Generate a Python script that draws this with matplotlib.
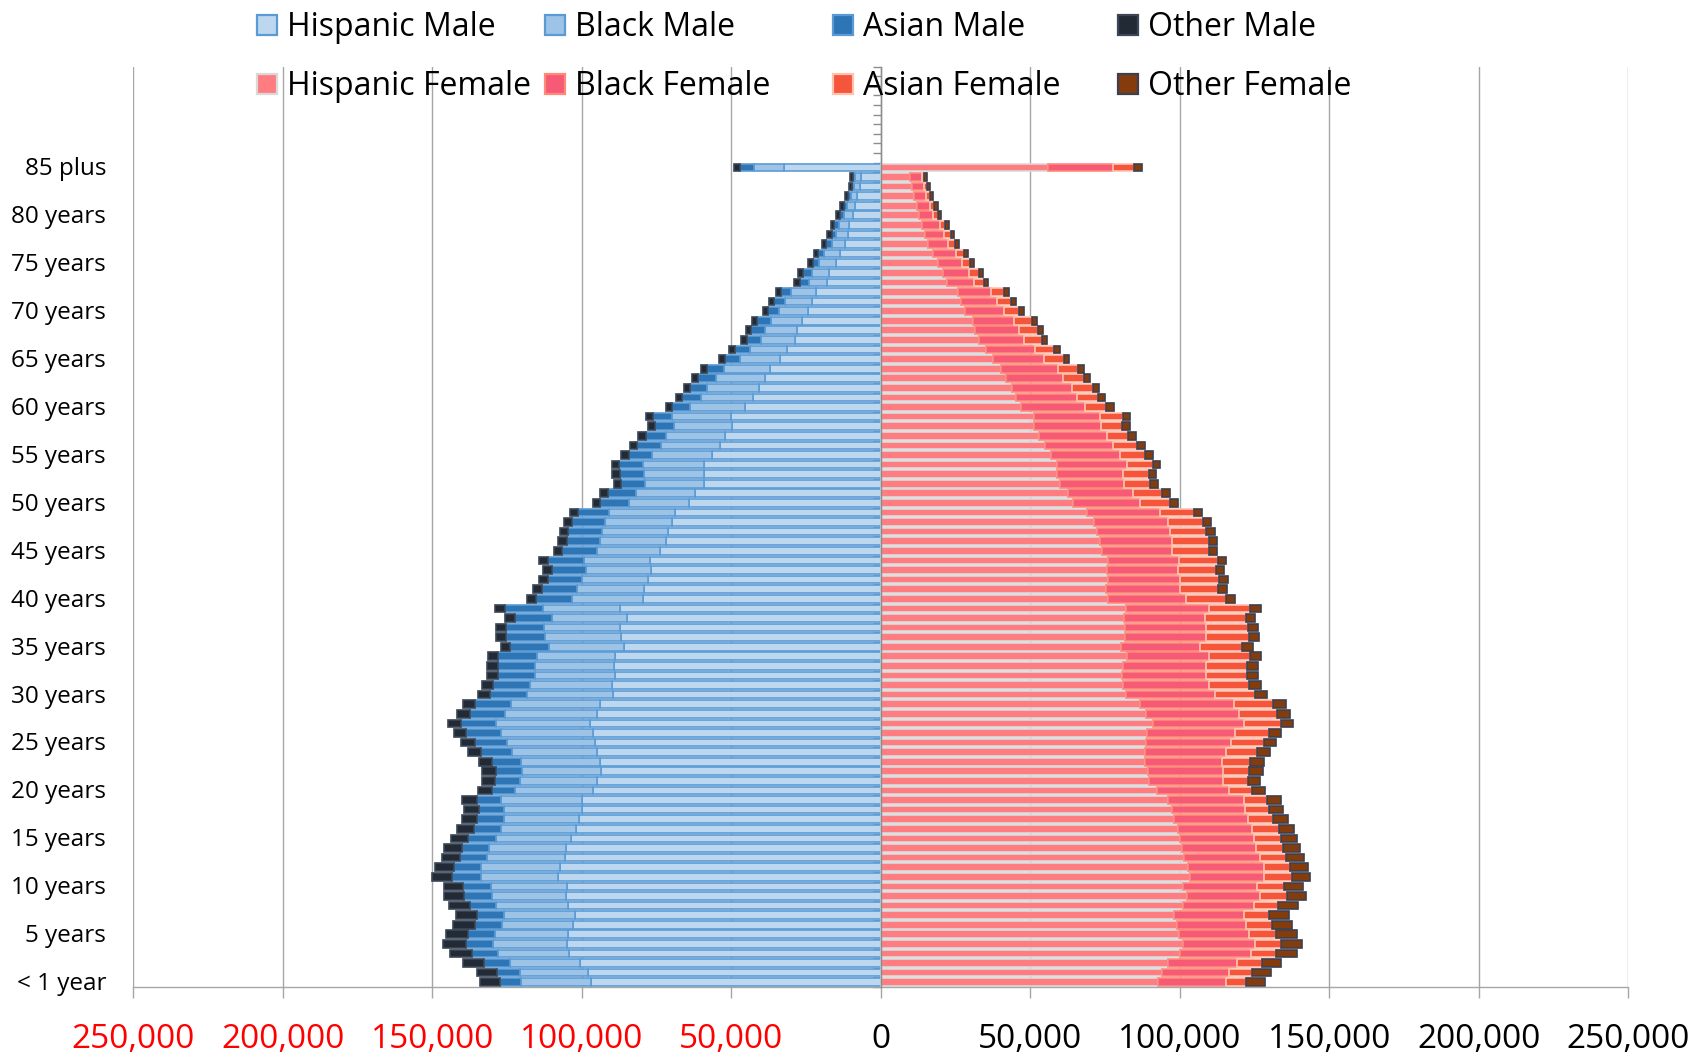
import numpy as np
import matplotlib
matplotlib.use("Agg")
import matplotlib.pyplot as plt
from matplotlib.lines import Line2D
from matplotlib.ticker import FuncFormatter
import matplotlib.transforms as mtransforms

plt.rcParams['font.family'] = ['Open Sans', 'DejaVu Sans']

# ---------------- data (persons), index 0 = "< 1 year", 85 = "85 plus" ----------------
ages = ["< 1 year"] + [f"{a} year" if a == 1 else f"{a} years" for a in range(1, 85)] + ["85 plus"]
shown_labels = ["< 1 year", "5 years", "10 years", "15 years", "20 years", "25 years", "30 years",
                "35 years", "40 years", "45 years", "50 years", "55 years", "60 years", "65 years",
                "70 years", "75 years", "80 years", "85 plus"]

hispanic_male = [97000, 98000, 100700, 104200, 105000, 104600, 102900, 102400, 104700, 105300,
                 105000, 107900, 107300, 105700, 105300, 103600, 101900, 100900, 100100, 100100,
                 96200, 94800, 93700, 93900, 95000, 95700, 96400, 97400, 95000, 93800,
                 89700, 90000, 89000, 89100, 88800, 86000, 86900, 87100, 85000, 87400,
                 79600, 79100, 77800, 76900, 77300, 73800, 72000, 71300, 69700, 68800,
                 64100, 62000, 59200, 59000, 59000, 56400, 53900, 52200, 49700, 50000,
                 45300, 42800, 40900, 38900, 37000, 33700, 31300, 28700, 28000, 26300,
                 24300, 23000, 21700, 18000, 17200, 15000, 13600, 12000, 10900, 10600,
                 9200, 8600, 7900, 6900, 6600, 32400]
black_male = [23300, 22800, 23500, 24000, 24700, 24300, 23800, 23700, 23900, 24700,
              25300, 26000, 26300, 25900, 25700, 25200, 25100, 25300, 25800, 27100,
              26000, 25900, 26300, 26400, 28300, 29300, 30800, 31200, 30600, 29900,
              28600, 27200, 26600, 26500, 26100, 25000, 25400, 25600, 25100, 25600,
              23700, 22600, 22200, 21700, 21900, 21200, 21800, 22000, 22700, 22100,
              20000, 20000, 19600, 20200, 20700, 20300, 19800, 19500, 19500, 19800,
              18400, 17400, 17100, 16300, 15600, 13500, 12600, 11500, 10900, 10600,
              9700, 8900, 8200, 6100, 5800, 5600, 5400, 4300, 4000, 3500,
              3200, 2600, 2000, 2200, 2000, 10000]
asian_male = [7100, 7500, 8600, 8700, 9200, 9200, 9200, 9100, 8800, 9400,
              9400, 9700, 9200, 9200, 9100, 9300, 9100, 8800, 8400, 7800,
              7800, 8200, 8800, 9700, 10300, 10900, 11400, 11700, 11800, 12100,
              12500, 12600, 12500, 12500, 13000, 12900, 13100, 12700, 12300, 12700,
              11900, 11600, 11300, 11400, 12100, 11600, 11200, 11400, 10800, 10400,
              9700, 9300, 8200, 8200, 7900, 7700, 7700, 6900, 6400, 6500,
              6200, 6200, 5900, 5900, 5500, 5000, 5000, 4600, 4400, 4500,
              3800, 3900, 3400, 3100, 3100, 2200, 2000, 2000, 1500, 1500,
              1400, 1100, 1000, 700, 600, 4800]
other_male = [6700, 6900, 7000, 7300, 7400, 7500, 7300, 6900, 7000, 6800,
              6300, 6400, 6200, 6100, 5900, 5800, 5600, 5200, 5100, 5100,
              4700, 4400, 4500, 4400, 4500, 4400, 4300, 4500, 4300, 3900,
              3900, 3600, 3600, 3600, 3400, 3300, 3400, 3300, 3400, 3300,
              3100, 3000, 3000, 3000, 2900, 2800, 2900, 2700, 2900, 2700,
              2500, 2500, 2400, 2400, 2400, 2500, 2500, 2500, 2400, 2300,
              2100, 2200, 1900, 1900, 2100, 2000, 1900, 1900, 1900, 1800,
              1600, 1600, 1700, 1700, 1500, 1400, 1400, 1400, 1700, 1200,
              1200, 1300, 1200, 1000, 1000, 1900]

hispanic_female = [92800, 94000, 96200, 100200, 101000, 99800, 99200, 98200, 101100, 102300,
                   101100, 103300, 102800, 101400, 100700, 99900, 99400, 98000, 97300, 96100,
                   92300, 89800, 89200, 88300, 88300, 88700, 88900, 91100, 88800, 86800,
                   82100, 81000, 80800, 81100, 82200, 80200, 81600, 81700, 81300, 81900,
                   76100, 75300, 76100, 75700, 76100, 74100, 73400, 72300, 71200, 69100,
                   64300, 62600, 59800, 58800, 59000, 56800, 55000, 53000, 51300, 51200,
                   47000, 45100, 43700, 41700, 40300, 37400, 35300, 32800, 31400, 30700,
                   28000, 26700, 25700, 22100, 20700, 19000, 17600, 15700, 14700, 13700,
                   12600, 12000, 11100, 10400, 9800, 55800]
black_female = [22500, 22600, 23000, 23600, 24100, 23300, 23000, 23200, 23800, 24500,
                 24700, 25000, 25200, 25300, 24700, 24800, 24600, 24700, 24500, 25300,
                 24300, 24500, 25200, 25800, 27000, 28500, 29500, 30300, 31100, 31200,
                 29600, 28600, 27900, 27600, 27500, 26700, 27300, 27200, 27000, 27900,
                 25900, 24700, 24100, 23600, 23700, 23300, 24000, 24400, 24900, 24200,
                 22400, 21800, 21600, 22300, 23400, 23200, 22600, 22600, 22300, 22200,
                 21300, 20500, 20200, 19200, 18900, 17300, 16300, 15000, 14900, 14000,
                 13100, 12100, 11100, 8900, 8700, 8000, 7500, 6600, 6400, 6000,
                 4700, 4400, 4100, 3900, 3800, 21800]
asian_female = [6700, 7500, 8200, 8500, 8800, 8900, 8600, 8400, 8100, 9000,
                9100, 9100, 9000, 8900, 9200, 9200, 9100, 8500, 8000, 7700,
                7600, 8500, 8900, 9500, 10400, 10900, 11400, 12300, 12700, 13200,
                13500, 13400, 13600, 13900, 13900, 14000, 14100, 13900, 13700, 13800,
                13300, 12800, 12900, 12700, 12800, 12200, 12400, 12200, 11600, 11400,
                10100, 9600, 8700, 8500, 8500, 8300, 8100, 7200, 7200, 7500,
                7000, 7000, 6900, 6900, 6900, 6500, 6400, 6100, 6100, 6000,
                5100, 4800, 4300, 3400, 3400, 2800, 2700, 2500, 2200, 1900,
                1700, 1500, 1400, 1300, 800, 7100]
other_female = [6400, 6500, 6600, 6900, 7000, 7100, 6800, 6800, 6400, 6400,
                6200, 6300, 5800, 5800, 5600, 5300, 5200, 4900, 4800, 4600,
                4400, 3900, 4400, 4400, 4300, 4200, 4200, 4200, 4400, 4200,
                4100, 4000, 3800, 3500, 3500, 3500, 3400, 3400, 3300, 3400,
                3300, 3100, 2900, 2700, 2700, 2700, 2600, 2700, 2700, 2600,
                2500, 2700, 2500, 2300, 2500, 2600, 2500, 2500, 2400, 2500,
                2600, 2300, 2300, 2200, 1900, 1800, 1800, 1700, 1700, 1600,
                1700, 1600, 1700, 1500, 1400, 1400, 1300, 1200, 1300, 1200,
                1000, 1100, 1000, 800, 900, 2700]

x_ticks = [-250000, -200000, -150000, -100000, -50000, 0, 50000, 100000, 150000, 200000, 250000]

# ---------------- styles ----------------
male_series = [
    ("Hispanic Male", hispanic_male, "#BDD7EE", "#5B9BD5"),
    ("Black Male", black_male, "#9DC3E6", "#5B9BD5"),
    ("Asian Male", asian_male, "#2E75B6", "#5B9BD5"),
    ("Other Male", other_male, "#222A35", "#3B4656"),
]
female_series = [
    ("Hispanic Female", hispanic_female, "#FF7C80", "#D9D9D9"),
    ("Black Female", black_female, "#F75A74", "#FF8A7A"),
    ("Asian Female", asian_female, "#F5553A", "#FFC2B0"),
    ("Other Female", other_female, "#843C0C", "#3B4050"),
]

W, H = 1701, 1056
fig = plt.figure(figsize=(W / 100, H / 100), dpi=100)
ax_left, ax_right, ax_top, ax_bottom = 133.4, 1628.3, 66.7, 987.0
ax = fig.add_axes([ax_left / W, (H - ax_bottom) / H, (ax_right - ax_left) / W, (ax_bottom - ax_top) / H])

y = np.arange(len(ages))
bar_h = 0.8
lw = 1.2

handles_m, handles_f = [], []
left = np.zeros(len(ages))
for name, vals, fc, ec in male_series:
    v = -np.asarray(vals, dtype=float)
    ax.barh(y, v, left=left, height=bar_h, color=fc, edgecolor=ec, linewidth=lw, zorder=2)
    left = left + v
    handles_m.append(Line2D([], [], linestyle='none', marker='s', markersize=15,
                            markerfacecolor=fc, markeredgecolor=ec, markeredgewidth=1.6, label=name))
left = np.zeros(len(ages))
for name, vals, fc, ec in female_series:
    v = np.asarray(vals, dtype=float)
    ax.barh(y, v, left=left, height=bar_h, color=fc, edgecolor=ec, linewidth=lw, zorder=2)
    left = left + v
    handles_f.append(Line2D([], [], linestyle='none', marker='s', markersize=15,
                            markerfacecolor=fc, markeredgecolor=ec, markeredgewidth=1.6, label=name))

ax.set_xlim(-250000, 250000)
ax.set_ylim(-0.5, 95.5)

grid_c = "#A6A6A6"
ax.set_xticks(x_ticks)
ax.xaxis.grid(True, color=grid_c, linewidth=1.0, zorder=0)
ax.set_axisbelow(True)
ax.xaxis.set_major_formatter(FuncFormatter(lambda v, p: f"{abs(int(v)):,}"))
ax.tick_params(axis='x', direction='out', length=8, width=1.0, color=grid_c,
               labelsize=24, pad=18)
for lab, v in zip(ax.get_xticklabels(), x_ticks):
    lab.set_color("#FF0000" if v < 0 else "black")

for s in ['top', 'right']:
    ax.spines[s].set_visible(False)
ax.spines['bottom'].set_color(grid_c)
ax.spines['bottom'].set_linewidth(1.0)
ax.spines['left'].set_position(('data', 0))
ax.spines['left'].set_color("#8C8C8C")
ax.spines['left'].set_linewidth(1.0)
ax.spines['left'].set_zorder(3)

ax.set_yticks(np.arange(-0.5, 96, 1.0))
ax.set_yticklabels([])
ax.tick_params(axis='y', direction='out', length=6, width=1.0, color="#8C8C8C")

# category labels on the far left
trans = mtransforms.blended_transform_factory(ax.transAxes, ax.transData)
label_pos = [ages.index(l) for l in shown_labels]
for pos, lab in zip(label_pos, shown_labels):
    ax.text((106 - ax_left) / (ax_right - ax_left), pos - 0.2, lab, transform=trans,
            ha='right', va='center', fontsize=17.5, color='black')

# legend: 4 columns, males on top row, females below
col_marker_x = [267, 555, 843, 1128]
fs = 23
hl = 0.7
for i, xm in enumerate(col_marker_x):
    x_left = xm - hl * fs * 100 / 72 / 2
    leg = fig.legend(handles=[handles_m[i], handles_f[i]], loc='center left',
                     bbox_to_anchor=(x_left / W, 1 - 57 / H), frameon=False,
                     fontsize=fs, handlelength=hl, handletextpad=0.28,
                     labelspacing=0.8, borderpad=0, borderaxespad=0)

fig.savefig("out.png", dpi=100)
